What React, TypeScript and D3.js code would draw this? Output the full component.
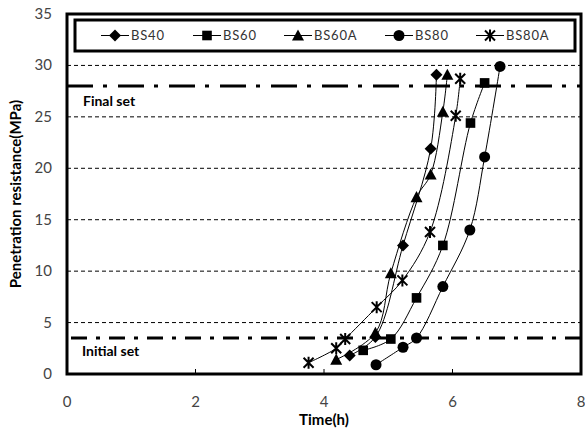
import React from 'react';
import * as d3 from 'd3';

// chart values
const xTicks = [0, 2, 4, 6, 8];
const yTicks = [0, 5, 10, 15, 20, 25, 30, 35];
const gridLines = [5, 10, 15, 20, 25, 30];
const initialSet = 3.5;
const finalSet = 28;

const bs40 = [[4.40, 1.8], [4.80, 3.6], [5.23, 12.5], [5.66, 21.9], [5.75, 29.1]];
const bs60 = [[4.61, 2.3], [5.04, 3.4], [5.44, 7.4], [5.85, 12.5], [6.28, 24.4], [6.50, 28.3]];
const bs60a = [[4.19, 1.4], [4.80, 4.0], [5.04, 9.8], [5.44, 17.2], [5.66, 19.4], [5.85, 25.5], [5.92, 29.1]];
const bs80 = [[4.81, 0.9], [5.23, 2.6], [5.44, 3.5], [5.85, 8.5], [6.27, 14.0], [6.50, 21.1], [6.74, 29.9]];
const bs80a = [[3.76, 1.1], [4.19, 2.5], [4.33, 3.4], [4.82, 6.5], [5.22, 9.1], [5.65, 13.8], [6.05, 25.1], [6.12, 28.7]];

const series = [
  { name: 'BS40', marker: 'diamond', values: bs40 },
  { name: 'BS60', marker: 'square', values: bs60 },
  { name: 'BS60A', marker: 'triangle', values: bs60a },
  { name: 'BS80', marker: 'circle', values: bs80 },
  { name: 'BS80A', marker: 'star', values: bs80a },
];

const FONT = 'Lato, "Open Sans", sans-serif';

function Marker({ type, x, y }: { type: string; x: number; y: number }) {
  if (type === 'diamond') {
    const s = 6;
    return <path d={`M${x},${y - s}L${x + s},${y}L${x},${y + s}L${x - s},${y}Z`} fill="#000" />;
  }
  if (type === 'square') {
    return <rect x={x - 4.8} y={y - 4.8} width={9.6} height={9.6} fill="#000" />;
  }
  if (type === 'triangle') {
    const s = 6;
    return <path d={`M${x},${y - s}L${x + s},${y + s * 0.85}L${x - s},${y + s * 0.85}Z`} fill="#000" />;
  }
  if (type === 'circle') {
    return <circle cx={x} cy={y} r={5.5} fill="#000" />;
  }
  const s = 5;
  return (
    <path
      d={`M${x - s},${y - s}L${x + s},${y + s}M${x - s},${y + s}L${x + s},${y - s}M${x},${y - s - 1}L${x},${y + s + 1}`}
      stroke="#000"
      strokeWidth={2}
      fill="none"
    />
  );
}

export default function App() {
  const left = 67, right = 581, top = 14, bottom = 374;
  const x = d3.scaleLinear().domain([0, 8]).range([left, right]);
  const y = d3.scaleLinear().domain([0, 35]).range([bottom, top]);
  // smoothed lines like the original
  const line = d3.line<number[]>().x(d => x(d[0])).y(d => y(d[1])).curve(d3.curveCatmullRom.alpha(0.5));

  const legendX = [101, 193, 284, 385, 476];

  return (
    <svg width={585} height={432} style={{ position: 'absolute', left: 0, top: 0, background: '#fff' }}>
      {/* grid */}
      {gridLines.map(v => (
        <line key={v} x1={left} x2={right} y1={y(v)} y2={y(v)} stroke="#000" strokeWidth={1} strokeDasharray="4,3" />
      ))}
      {/* set lines */}
      <line x1={left} x2={right} y1={y(finalSet)} y2={y(finalSet)} stroke="#000" strokeWidth={3} strokeDasharray="26,10,4,11" />
      <line x1={left} x2={right} y1={y(initialSet)} y2={y(initialSet)} stroke="#000" strokeWidth={3} strokeDasharray="16,9,4,9" strokeDashoffset={-4} />
      <text x={83} y={106} fontFamily={FONT} fontWeight="bold" fontSize={14}>Final set</text>
      <text x={82} y={356} fontFamily={FONT} fontWeight="bold" fontSize={14}>Initial set</text>

      {/* x ticks */}
      {xTicks.slice(1, -1).map(t => (
        <line key={t} x1={x(t)} x2={x(t)} y1={bottom} y2={bottom - 5} stroke="#000" strokeWidth={1} />
      ))}

      {/* series */}
      {series.map(s => (
        <g key={s.name}>
          <path d={line(s.values) || ''} fill="none" stroke="#000" strokeWidth={1} />
          {s.values.map((d, i) => (
            <Marker key={i} type={s.marker} x={x(d[0])} y={y(d[1])} />
          ))}
        </g>
      ))}

      {/* frame */}
      <rect x={left} y={top} width={right - left} height={bottom - top} fill="none" stroke="#000" strokeWidth={3} />

      {/* legend */}
      <rect x={75} y={20} width={500} height={31} fill="#fff" stroke="#000" strokeWidth={3} />
      {series.map((s, i) => (
        <g key={s.name}>
          <line x1={legendX[i]} x2={legendX[i] + 28} y1={35.5} y2={35.5} stroke="#000" strokeWidth={1} />
          <Marker type={s.marker} x={legendX[i] + 14} y={35.5} />
          <text x={legendX[i] + 30} y={40} fontFamily={FONT} fontSize={13} letterSpacing={0.8} fill="#333">{s.name}</text>
        </g>
      ))}

      {/* axis labels */}
      {yTicks.map(v => (
        <text key={v} x={52} y={y(v) + 5} textAnchor="end" fontFamily={FONT} fontSize={15} fill="#444">{v}</text>
      ))}
      {xTicks.map(t => (
        <text key={t} x={x(t)} y={bottom + 33} textAnchor="middle" fontFamily={FONT} fontSize={15} fill="#444">{t}</text>
      ))}
      <text x={324} y={425} textAnchor="middle" fontFamily={FONT} fontWeight="bold" fontSize={15}>Time(h)</text>
      <text transform={`translate(21,${(top + bottom) / 2}) rotate(-90)`} textAnchor="middle" fontFamily={FONT} fontWeight="bold" fontSize={15}>Penetration resistance(MPa)</text>
    </svg>
  );
}
